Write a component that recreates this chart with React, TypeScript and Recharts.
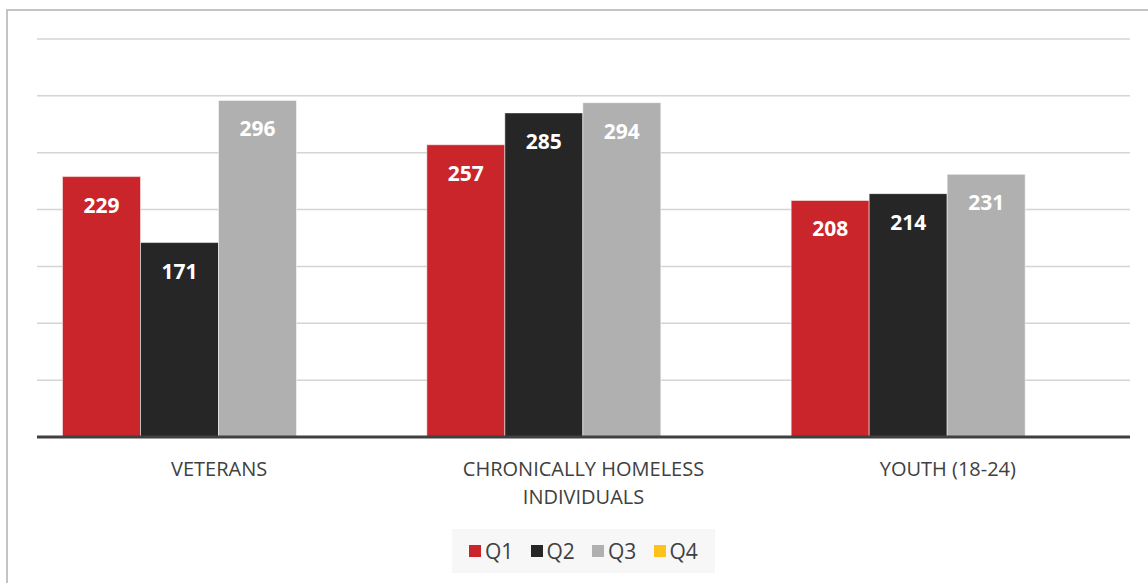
import React from 'react';
import { BarChart, Bar, XAxis, YAxis, CartesianGrid, LabelList } from 'recharts';

const categories = ['VETERANS', 'CHRONICALLY HOMELESS INDIVIDUALS', 'YOUTH (18-24)'];
const q1Values = [229, 257, 208];
const q2Values = [171, 285, 214];
const q3Values = [296, 294, 231];
const q4Values: (number | null)[] = [null, null, null];
const yTicks = [0, 50, 100, 150, 200, 250, 300, 350];

const SERIES = [
  { key: 'Q1', color: '#C9252B' },
  { key: 'Q2', color: '#262626' },
  { key: 'Q3', color: '#B0B0B0' },
  { key: 'Q4', color: '#FFC21C' },
];

const FONT = '"Open Sans", "Liberation Sans", sans-serif';

const data = categories.map((name, i) => ({
  name,
  Q1: q1Values[i],
  Q2: q2Values[i],
  Q3: q3Values[i],
  Q4: q4Values[i],
}));

const tickLines: Record<string, string[]> = {
  'CHRONICALLY HOMELESS INDIVIDUALS': ['CHRONICALLY HOMELESS', 'INDIVIDUALS'],
};

function CategoryTick(props: any) {
  const { x, y, payload } = props;
  const lines = tickLines[payload.value] || [payload.value];
  return (
    <text x={x} y={y + 31} textAnchor="middle" fill="#404040" fontFamily={FONT} fontSize={20}>
      {lines.map((line, i) => (
        <tspan key={i} x={x} dy={i === 0 ? 0 : 28}>
          {line}
        </tspan>
      ))}
    </text>
  );
}

function BarValue(props: any) {
  const { x, y, width, value } = props;
  if (value == null) return null;
  return (
    <text
      x={x + width / 2}
      y={y + 28}
      textAnchor="middle"
      dominantBaseline="central"
      fill="#ffffff"
      fontFamily={FONT}
      fontWeight={700}
      fontSize={21}
    >
      {value}
    </text>
  );
}

export default function App() {
  return (
    <div style={{ position: 'absolute', left: 0, top: 0, width: 1148, height: 583, background: '#fff', overflow: 'hidden' }}>
      <div
        style={{
          position: 'absolute',
          left: 6,
          top: 9,
          width: 1160,
          height: 600,
          border: '2px solid #c4c4c4',
          boxSizing: 'border-box',
        }}
      />
      <div style={{ position: 'absolute', left: 0, top: 0 }}>
        <BarChart
          width={1148}
          height={583}
          data={data}
          margin={{ top: 39, right: 18, bottom: 66, left: 37 }}
          barCategoryGap="7%"
          barGap={0}
        >
          <CartesianGrid vertical={false} stroke="#d4d4d4" strokeWidth={1.5} />
          <YAxis hide domain={[0, 350]} ticks={yTicks} />
          <XAxis
            dataKey="name"
            height={80}
            axisLine={{ stroke: '#404040', strokeWidth: 3 }}
            tickLine={false}
            tick={<CategoryTick />}
            interval={0}
          />
          {SERIES.map((s) => (
            <Bar
              key={s.key}
              dataKey={s.key}
              fill={s.color}
              stroke="rgba(255,255,255,0.5)"
              strokeWidth={1}
              isAnimationActive={false}
            >
              <LabelList dataKey={s.key} content={<BarValue />} />
            </Bar>
          ))}
        </BarChart>
      </div>
      <div
        style={{
          position: 'absolute',
          left: 452,
          top: 529,
          width: 263,
          height: 44,
          background: '#f7f7f7',
          display: 'flex',
          alignItems: 'center',
          paddingLeft: 17,
          boxSizing: 'border-box',
          fontFamily: FONT,
          fontSize: 21,
          color: '#404040',
        }}
      >
        {SERIES.map((s) => (
          <div key={s.key} style={{ display: 'flex', alignItems: 'center', width: 63.5 }}>
            <span style={{ display: 'inline-block', width: 12, height: 12, background: s.color, marginRight: 4 }} />
            <span>{s.key}</span>
          </div>
        ))}
      </div>
    </div>
  );
}
